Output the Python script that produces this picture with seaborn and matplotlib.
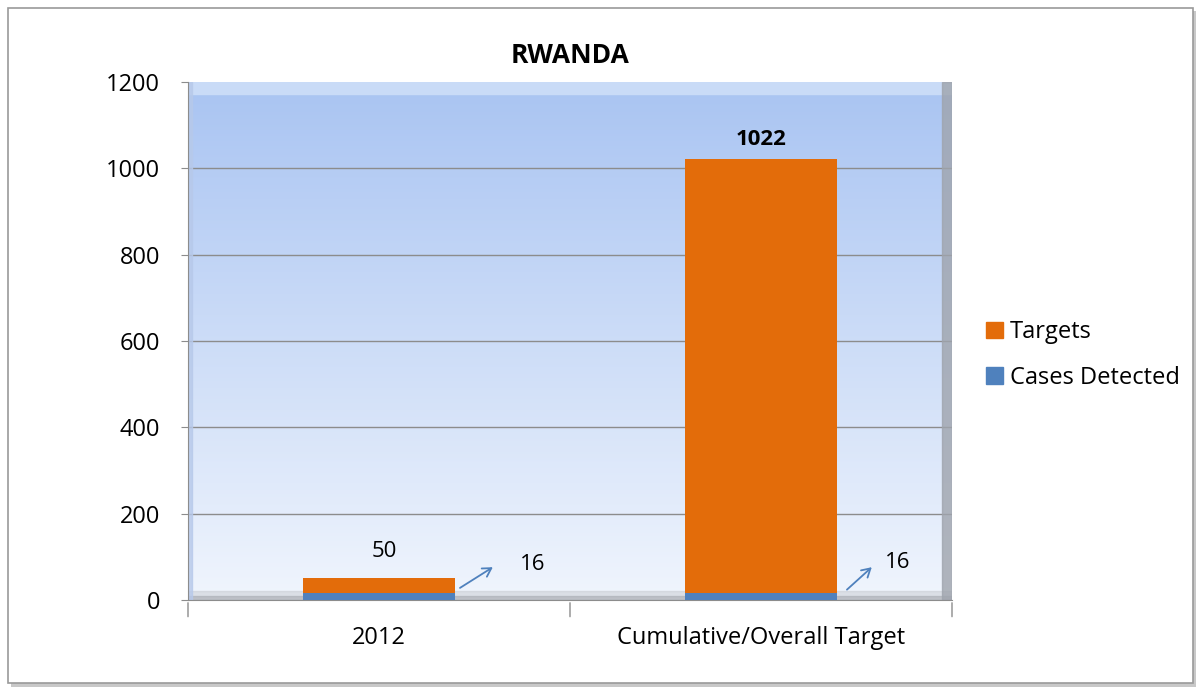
import numpy as np
import pandas as pd
import matplotlib
matplotlib.use("Agg")
import matplotlib.pyplot as plt
import matplotlib.patches as mpatches
import seaborn as sns

# data
categories = ["2012", "Cumulative/Overall Target"]
targets = [50, 1022]
cases_detected = [16, 16]
y_ticks = [0, 200, 400, 600, 800, 1000, 1200]

orange = "#e36c0a"
blue = "#4f81bd"

sns.set_style("white")
plt.rcParams["font.family"] = ["Open Sans", "DejaVu Sans"]
plt.rcParams["text.color"] = "black"
plt.rcParams["xtick.color"] = "black"
plt.rcParams["ytick.color"] = "black"

fig = plt.figure(figsize=(12.02, 6.91), dpi=100)
fig.patch.set_facecolor("white")

# outer chart frame with a soft shadow
fig.add_artist(mpatches.Rectangle((11 / 1202, 1 - 687 / 691), 1185 / 1202, 676 / 691,
                                  transform=fig.transFigure, facecolor="#c8c8c8",
                                  edgecolor="none", zorder=0))
fig.add_artist(mpatches.Rectangle((8 / 1202, 1 - 683 / 691), 1185 / 1202, 675 / 691,
                                  transform=fig.transFigure, facecolor="white",
                                  edgecolor="#9a9a9a", linewidth=1.2, zorder=0))

ax = fig.add_axes([188 / 1202, 1 - 600 / 691, 764 / 1202, 518 / 691])
ax.set_zorder(2)

df = pd.DataFrame({"category": categories, "Targets": targets, "Cases Detected": cases_detected})

# gradient plot area
grad = np.linspace(0, 1, 256).reshape(-1, 1)
cmap = matplotlib.colors.LinearSegmentedColormap.from_list("bg", ["#f0f5fd", "#a9c4f2"])
ax.imshow(grad, extent=[-0.5, 1.5, 0, 1200], origin="lower", aspect="auto",
          cmap=cmap, zorder=0)

sns.barplot(data=df, x="category", y="Targets", color=orange, width=0.4,
            saturation=1, ax=ax, zorder=3, linewidth=0, edgecolor="none")
sns.barplot(data=df, x="category", y="Cases Detected", color=blue, width=0.4,
            saturation=1, ax=ax, zorder=4, linewidth=0, edgecolor="none")

ax.set_xlim(-0.5, 1.5)
ax.set_ylim(0, 1200)
ax.set_yticks(y_ticks)
for y in y_ticks[1:-1]:
    ax.axhline(y, color="#8c8c8c", linewidth=1, zorder=1)

# bevel hints
ax.axhspan(1172, 1200, color="#c9dbf7", zorder=1)
ax.axhspan(0, 22, color="#c3c6cc", zorder=1, alpha=0.45)
ax.axhspan(0, 10, color="#a9acb3", zorder=1, alpha=0.6)
ax.axvspan(1.475, 1.5, color="#9fa4ad", zorder=1, alpha=0.8)
ax.axvspan(-0.5, -0.49, color="#b7c9ea", zorder=1, alpha=0.8)

ax.set_xlabel("")
ax.set_ylabel("")
ax.set_xticks([0, 1])
ax.set_xticklabels(categories, fontsize=17)
ax.tick_params(axis="x", length=0, pad=19)
ax.tick_params(axis="y", labelsize=17, length=5, color="#8c8c8c", left=True, pad=15)
for x in [-0.5, 0.5, 1.5]:
    ax.annotate("", xy=(x, 0), xytext=(x, -14), textcoords=("data", "offset points"),
                arrowprops=dict(arrowstyle="-", color="#8c8c8c", lw=1), annotation_clip=False)

for side in ["top", "right"]:
    ax.spines[side].set_visible(False)
ax.spines["left"].set_color("#8c8c8c")
ax.spines["bottom"].set_color("#8c8c8c")

ax.set_title("RWANDA", fontsize=19, fontweight="bold", pad=14)

# data labels
ax.text(0.013, 113, str(targets[0]), ha="center", va="center", fontsize=16)
ax.text(1.0, 1067, str(targets[1]), ha="center", va="center", fontsize=16, fontweight="bold")
label_pos = [(0.212, 28, 0.298, 76, 0.403, 83), (1.225, 24, 1.29, 76, 1.359, 88)]
for (x0, y0, x1, y1, lx, ly), val in zip(label_pos, cases_detected):
    ax.annotate("", xy=(x1, y1), xytext=(x0, y0),
                arrowprops=dict(arrowstyle="->,head_length=0.6,head_width=0.35",
                                color=blue, lw=1.3, shrinkA=0, shrinkB=0), zorder=5)
    ax.text(lx, ly, str(val), ha="center", va="center", fontsize=16, zorder=5)

handles = [mpatches.Patch(color=orange, label="Targets"),
           mpatches.Patch(color=blue, label="Cases Detected")]
fig.legend(handles=handles, loc="center left", bbox_to_anchor=(965 / 1202, 1 - 355 / 691),
           frameon=False, fontsize=17, handlelength=0.7, handleheight=0.7,
           handletextpad=0.3, labelspacing=0.9)

fig.savefig("out.png", dpi=100, facecolor="white")
